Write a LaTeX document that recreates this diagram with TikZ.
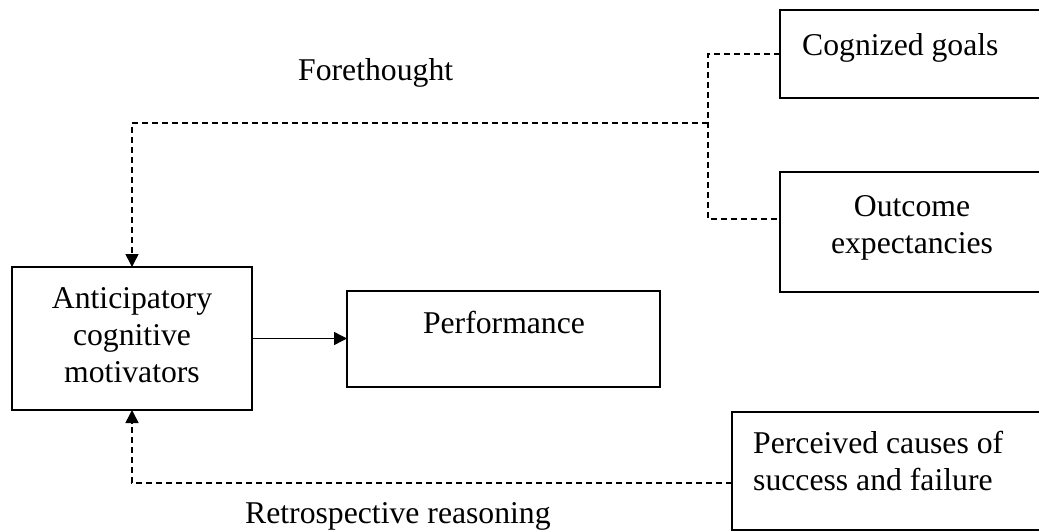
\documentclass[tikz,border=0pt]{standalone}
\usepackage{fontspec}
\setmainfont{Liberation Serif}
\usetikzlibrary{arrows.meta}
\begin{document}
\begin{tikzpicture}[x=1pt,y=-1pt,
  box/.style={draw, line width=2pt, inner sep=0pt, outer sep=0pt, anchor=north west},
  txt/.style={inner sep=0pt, anchor=base, font=\fontsize{31.7}{37}\selectfont},
  txtl/.style={txt, anchor=base west},
  link/.style={line width=1.5pt, dash pattern=on 6pt off 4pt},
  tip/.style={-{Triangle[length=13pt,width=13pt]}}]
\useasboundingbox (0,0) rectangle (1039,532);
\clip (0,0) rectangle (1039,532);
% boxes
\node[box, minimum width=270pt, minimum height=88pt]  (goals)   at (780,10)  {};
\node[box, minimum width=270pt, minimum height=120pt] (outcome) at (780,172) {};
\node[box, minimum width=240pt, minimum height=143pt] (motiv)   at (12,267)  {};
\node[box, minimum width=313pt, minimum height=96pt]  (perf)    at (347,291) {};
\node[box, minimum width=318pt, minimum height=118pt] (causes)  at (732,412) {};
% box texts
\node[txtl] (tgoals) at (802,56) {Cognized goals};
\node[txt] (tout1) at (912,216) {Outcome};
\node[txt] (tout2) at (912,253) {expectancies};
\node[txt] (tmot1) at (132,308) {Anticipatory};
\node[txt] (tmot2) at (132,345) {cognitive};
\node[txt] (tmot3) at (132,382) {motivators};
\node[txt] (tperf) at (504,333) {Performance};
\node[txtl] (tcau1) at (753,453) {Perceived causes of};
\node[txtl] (tcau2) at (753,490) {success and failure};
% path labels
\node[txtl] (fore)  at (298,81)  {Forethought};
\node[txtl] (retro) at (245,523) {Retrospective reasoning};
% forethought links
\coordinate (fork) at (708,123);
\coordinate (outin) at ([yshift=-47pt]outcome.north west);
\draw[link] (goals.west) -- (goals.west -| fork) -- (outin -| fork) -- (outin);
\draw[link, tip] (fork) -| (motiv.north);
% retrospective link
\coordinate (causein) at ([yshift=-71pt]causes.north west);
\draw[link, tip] (causein) -| (motiv.south);
% motivators to performance
\draw[line width=1.5pt, tip] (motiv.east) -- (motiv.east -| perf.west);
\end{tikzpicture}
\end{document}
